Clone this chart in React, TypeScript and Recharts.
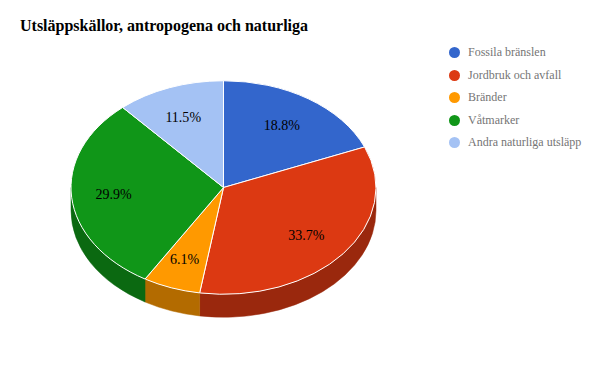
import React from 'react'
import { PieChart, Pie, Cell } from 'recharts'

const categories = ['Fossila bränslen', 'Jordbruk och avfall', 'Bränder', 'Våtmarker', 'Andra naturliga utsläpp']
const shares = [18.8, 33.7, 6.1, 29.9, 11.5]
const topColors = ['#3366cc', '#dc3912', '#ff9900', '#109618', '#a4c2f4']
const sideColors = ['#24478f', '#9a280d', '#b36b00', '#0b6911', '#7388ab']

const data = categories.map((name, i) => ({ name, value: shares[i] }))

const SQUASH = 0.7
const DEPTH = 23
const RAD = Math.PI / 180
const SERIF = "'Liberation Serif', 'Times New Roman', serif"

function pt(cx: number, cy: number, r: number, deg: number, dy = 0) {
  return [cx + r * Math.cos(deg * RAD), cy - r * SQUASH * Math.sin(deg * RAD) + dy]
}

function Slice3D(props: any) {
  const { cx, cy, outerRadius: r, startAngle, endAngle, index } = props
  const ry = r * SQUASH
  const [x1, y1] = pt(cx, cy, r, startAngle)
  const [x2, y2] = pt(cx, cy, r, endAngle)
  const big = Math.abs(startAngle - endAngle) > 180 ? 1 : 0
  const top = `M${cx},${cy} L${x1},${y1} A${r},${ry} 0 ${big} 1 ${x2},${y2} Z`

  // visible side wall: the part of the arc in the lower half
  const hi = Math.max(startAngle, endAngle)
  const lo = Math.min(startAngle, endAngle)
  const sides: string[] = []
  for (let n = -1; n <= 1; n++) {
    const a = Math.min(hi, 360 * n)
    const b = Math.max(lo, 360 * n - 180)
    if (a - b > 0.01) {
      const [ax, ay] = pt(cx, cy, r, a)
      const [bx, by] = pt(cx, cy, r, b)
      sides.push(
        `M${ax},${ay} A${r},${ry} 0 0 1 ${bx},${by} L${bx},${by + DEPTH} A${r},${ry} 0 0 0 ${ax},${ay + DEPTH} Z`
      )
    }
  }
  return (
    <g>
      {sides.map((d, i) => (
        <path key={i} d={d} fill={sideColors[index]} stroke={sideColors[index]} strokeWidth={0.5} />
      ))}
      <path d={top} fill={topColors[index]} stroke="#ffffff" strokeWidth={1} />
    </g>
  )
}

function SliceLabel(props: any) {
  const { cx, cy, outerRadius, midAngle, percent } = props
  const [x, y] = pt(cx, cy, outerRadius * 0.71, midAngle)
  return (
    <text x={x - 2} y={y} dy={5} textAnchor="middle" fill="#000000" fontSize={14} style={{ fontFamily: SERIF }}>
      {(percent * 100).toFixed(1)}%
    </text>
  )
}

export default function App() {
  return (
    <div style={{ position: 'absolute', left: 0, top: 0, width: 600, height: 371, background: '#fff', fontFamily: SERIF }}>
      <div style={{ position: 'absolute', left: 20, top: 17, fontWeight: 'bold', fontSize: 16, color: '#000', zIndex: 2 }}>
        Utsläppskällor, antropogena och naturliga
      </div>
      <div style={{ position: 'absolute', left: 449, top: 41.5, fontSize: 12, color: '#757575', zIndex: 2 }}>
        {categories.map((name, i) => (
          <div key={name} style={{ display: 'flex', alignItems: 'center', height: 22.5 }}>
            <span
              style={{ width: 11, height: 11, borderRadius: '50%', background: topColors[i], display: 'inline-block', marginRight: 8 }}
            />
            <span>{name}</span>
          </div>
        ))}
      </div>
      <PieChart width={600} height={371} margin={{ top: 0, right: 0, bottom: 0, left: 0 }}>
        <Pie
          data={data}
          dataKey="value"
          nameKey="name"
          cx={223.5}
          cy={187.5}
          outerRadius={152.5}
          startAngle={90}
          endAngle={-270}
          shape={Slice3D}
          label={SliceLabel}
          labelLine={false}
          isAnimationActive={false}
        >
          {data.map((d, i) => (
            <Cell key={d.name} fill={topColors[i]} />
          ))}
        </Pie>
      </PieChart>
    </div>
  )
}
